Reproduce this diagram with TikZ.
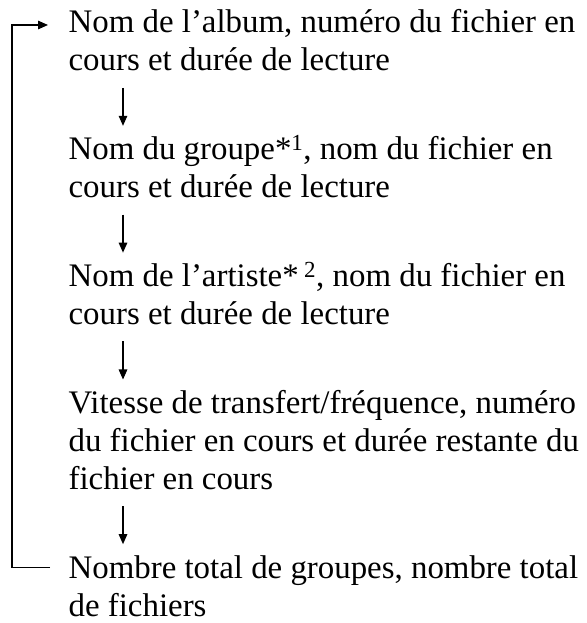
\documentclass[tikz,border=0pt]{standalone}
\usepackage{fontspec}
\setmainfont{Liberation Serif}
\usetikzlibrary{arrows.meta,positioning}

\begin{document}
\begin{tikzpicture}[x=1bp,y=1bp,>={Triangle[length=10bp,width=8.5bp]},line width=1.3bp,
    bloc/.style={inner sep=0pt,text width=530bp,align=left,font=\fontsize{33}{38}\selectfont,
        execute at begin node={\spaceskip=0pt\xspaceskip=0pt}}]

            \useasboundingbox (0,0) rectangle (587,-623);

            \node[bloc,anchor=base west] (album) at (68,-33) {Nom de l’album, numéro du fichier en\\cours et durée de lecture};

            \node[bloc] (groupe) [below=88bp of album.south west,anchor=base west] {Nom du groupe*\textsuperscript{1}, nom du fichier en\\cours et durée de lecture};

            \node[bloc] (artiste) [below=88bp of groupe.south west,anchor=base west] {Nom de l’artiste*\,\textsuperscript{2}, nom du fichier en\\cours et durée de lecture};

            \node[bloc] (vitesse) [below=88bp of artiste.south west,anchor=base west] {Vitesse de transfert/fréquence, numéro\\du fichier en cours et durée restante du\\fichier en cours};

            \node[bloc] (total) [below=88bp of vitesse.south west,anchor=base west] {Nombre total de groupes, nombre total\\de fichiers};

            

            \draw[->] ([xshift=55bp,yshift=-16bp]album.south west) -- ([xshift=55bp,yshift=34bp]groupe.base west);

            \draw[->] ([xshift=55bp,yshift=-16bp]groupe.south west) -- ([xshift=55bp,yshift=34bp]artiste.base west);

            \draw[->] ([xshift=55bp,yshift=-16bp]artiste.south west) -- ([xshift=55bp,yshift=34bp]vitesse.base west);

            \draw[->] ([xshift=55bp,yshift=-16bp]vitesse.south west) -- ([xshift=55bp,yshift=34bp]total.base west);

            \draw[->] ([xshift=-18bp,yshift=11bp]total.base west) -- ++(-38,0) |- ([xshift=-20bp,yshift=8bp]album.base west);

        \end{tikzpicture}
\end{document}
